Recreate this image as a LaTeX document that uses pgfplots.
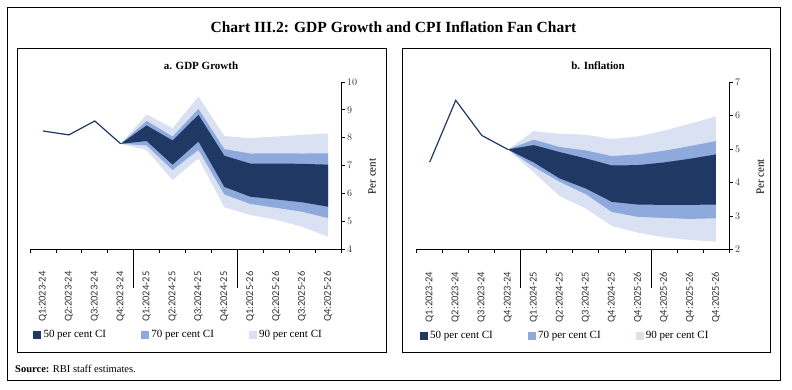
\documentclass[border=0pt]{standalone}
\usepackage{pgfplots}
\pgfplotsset{compat=1.18}
\usepackage{fontspec}
\setmainfont{Liberation Serif}
\newfontfamily\tickfont{Carlito}
\definecolor{dk}{HTML}{1F3864}
\definecolor{md}{HTML}{8EA9DB}
\definecolor{lt}{HTML}{D9E1F2}
\definecolor{tk}{HTML}{333333}
\pgfplotsset{fan/.style={
  scale only axis, height=167pt,
  xmin=0, xmax=12,
  axis x line=bottom, axis y line=right,
  axis line style={-, black, line width=0.8pt},
  every tick/.style={black, line width=0.8pt},
  tick align=outside, major tick length=3.5pt, minor tick length=39pt,
  xtick={0,1,...,12}, xticklabels={,,,,,,,,,,,,},
  extra x ticks={0.5,1.5,2.5,3.5,4.5,5.5,6.5,7.5,8.5,9.5,10.5,11.5},
  extra x tick style={major tick length=0pt},
  xticklabel style={rotate=90, anchor=east, text=tk, font=\tickfont\fontsize{10.5}{11}\selectfont},
  xticklabel shift=19pt,
  yticklabel style={font=\tickfont\fontsize{10}{11}\selectfont, text=tk, xshift=-1pt},
  ylabel={Per cent},
  every axis y label/.style={at={(axis description cs:1.1,0.434)}, rotate=90, anchor=center, font=\fontsize{11}{12}\selectfont},
  legend style={at={(axis description cs:0.01,-0.515)}, anchor=west, draw=none, fill=none,
    legend columns=3, font=\fontsize{11}{12}\selectfont, inner sep=0pt,
    /tikz/every even column/.append style={column sep=33pt}},
  legend cell align=left,
}}
\begin{document}
\begin{tikzpicture}
\useasboundingbox (0,0) rectangle (792pt,389pt);
\draw[line width=0.9pt] (7pt,382pt) rectangle (780pt,9pt);
\draw[line width=0.9pt] (17pt,341pt) rectangle (386pt,37pt);
\draw[line width=0.9pt] (402pt,341pt) rectangle (770pt,37pt);
\node[font=\bfseries\fontsize{15.5}{17}\selectfont] at (393.5pt,362pt) {Chart III.2: GDP Growth and CPI Inflation Fan Chart};
\node[font=\bfseries\fontsize{11}{12}\selectfont] at (201pt,323pt) {a. GDP Growth};
\node[font=\bfseries\fontsize{11}{12}\selectfont] at (598pt,323pt) {b. Inflation};
\node[anchor=west, font=\fontsize{10.5}{12}\selectfont, inner sep=0pt] at (15pt,20pt) {\textbf{Source:} RBI staff estimates.};

% GDP panel
\begin{axis}[fan, at={(30pt,140pt)}, anchor=south west, width=311pt,
  ymin=4, ymax=10, ytick={4,5,...,10},
  minor xtick={4,8},
  extra x tick labels={Q1:2023-24,Q2:2023-24,Q3:2023-24,Q4:2023-24,Q1:2024-25,Q2:2024-25,Q3:2024-25,Q4:2024-25,Q1:2025-26,Q2:2025-26,Q3:2025-26,Q4:2025-26}]
\addlegendimage{legend image code/.code={\fill[dk] (0pt,-3.5pt) rectangle (7pt,3.5pt); \path[draw=none,fill=none] (0pt,0pt) -- (8pt,0pt);}}
\addlegendentry{50 per cent CI}
\addlegendimage{legend image code/.code={\fill[md] (0pt,-3.5pt) rectangle (7pt,3.5pt); \path[draw=none,fill=none] (0pt,0pt) -- (8pt,0pt);}}
\addlegendentry{70 per cent CI}
\addlegendimage{legend image code/.code={\fill[lt] (0pt,-3.5pt) rectangle (7pt,3.5pt); \path[draw=none,fill=none] (0pt,0pt) -- (8pt,0pt);}}
\addlegendentry{90 per cent CI}
% 90 band
\addplot[fill=lt, draw=none, forget plot] coordinates {
 (3.5,7.78) (4.5,8.84) (5.5,8.34) (6.5,9.48) (7.5,8.06) (8.5,7.98) (9.5,8.04) (10.5,8.1) (11.5,8.15)
 (11.5,4.44) (10.5,4.8) (9.5,5.05) (8.5,5.22) (7.5,5.5) (6.5,7.26) (5.5,6.48) (4.5,7.55) (3.5,7.78)} -- cycle;
% 70 band
\addplot[fill=md, draw=none, forget plot] coordinates {
 (3.5,7.78) (4.5,8.6) (5.5,8.04) (6.5,9.03) (7.5,7.59) (8.5,7.43) (9.5,7.44) (10.5,7.43) (11.5,7.44)
 (11.5,5.11) (10.5,5.34) (9.5,5.48) (8.5,5.62) (7.5,5.96) (6.5,7.56) (5.5,6.84) (4.5,7.72) (3.5,7.78)} -- cycle;
% 50 band
\addplot[fill=dk, draw=none, forget plot] coordinates {
 (3.5,7.78) (4.5,8.44) (5.5,7.9) (6.5,8.82) (7.5,7.35) (8.5,7.07) (9.5,7.07) (10.5,7.06) (11.5,7.03)
 (11.5,5.52) (10.5,5.68) (9.5,5.78) (8.5,5.88) (7.5,6.23) (6.5,7.86) (5.5,7.03) (4.5,7.88) (3.5,7.78)} -- cycle;
\addplot[dk, line width=1.2pt, forget plot] coordinates {(0.5,8.24) (1.5,8.1) (2.5,8.6) (3.5,7.78)};
\end{axis}

% Inflation panel
\begin{axis}[fan, at={(416.7pt,139.7pt)}, anchor=south west, width=312.3pt,
  ymin=2, ymax=7, ytick={2,3,...,7},
  minor xtick={4,9},
  extra x tick labels={Q1:2023-24,Q2:2023-24,Q3:2023-24,Q4:2023-24,Q1:2024-25,Q2:2024-25,Q3:2024-25,Q4:2024-25,Q4:2025-26,Q4:2025-26,Q4:2025-26,Q4:2025-26}]
\addlegendimage{legend image code/.code={\fill[dk] (0pt,-3.5pt) rectangle (7pt,3.5pt); \path[draw=none,fill=none] (0pt,0pt) -- (8pt,0pt);}}
\addlegendentry{50 per cent CI}
\addlegendimage{legend image code/.code={\fill[md] (0pt,-3.5pt) rectangle (7pt,3.5pt); \path[draw=none,fill=none] (0pt,0pt) -- (8pt,0pt);}}
\addlegendentry{70 per cent CI}
\addlegendimage{legend image code/.code={\fill[lt] (0pt,-3.5pt) rectangle (7pt,3.5pt); \path[draw=none,fill=none] (0pt,0pt) -- (8pt,0pt);}}
\addlegendentry{90 per cent CI}
\addplot[fill=lt, draw=none, forget plot] coordinates {
 (3.5,4.99) (4.5,5.54) (5.5,5.46) (6.5,5.43) (7.5,5.3) (8.5,5.38) (9.5,5.55) (10.5,5.76) (11.5,5.98)
 (11.5,2.23) (10.5,2.28) (9.5,2.36) (8.5,2.5) (7.5,2.7) (6.5,3.22) (5.5,3.59) (4.5,4.3) (3.5,4.99)} -- cycle;
\addplot[fill=md, draw=none, forget plot] coordinates {
 (3.5,4.99) (4.5,5.28) (5.5,5.06) (6.5,4.96) (7.5,4.79) (8.5,4.84) (9.5,4.95) (10.5,5.09) (11.5,5.24)
 (11.5,2.93) (10.5,2.91) (9.5,2.94) (8.5,2.97) (7.5,3.12) (6.5,3.65) (5.5,4.02) (4.5,4.47) (3.5,4.99)} -- cycle;
\addplot[fill=dk, draw=none, forget plot] coordinates {
 (3.5,4.99) (4.5,5.12) (5.5,4.91) (6.5,4.72) (7.5,4.51) (8.5,4.52) (9.5,4.6) (10.5,4.71) (11.5,4.84)
 (11.5,3.34) (10.5,3.33) (9.5,3.33) (8.5,3.34) (7.5,3.42) (6.5,3.82) (5.5,4.12) (4.5,4.6) (3.5,4.99)} -- cycle;
\addplot[dk, line width=1.2pt, forget plot] coordinates {(0.5,4.61) (1.5,6.46) (2.5,5.41) (3.5,4.99)};
\end{axis}
\end{tikzpicture}
\end{document}
